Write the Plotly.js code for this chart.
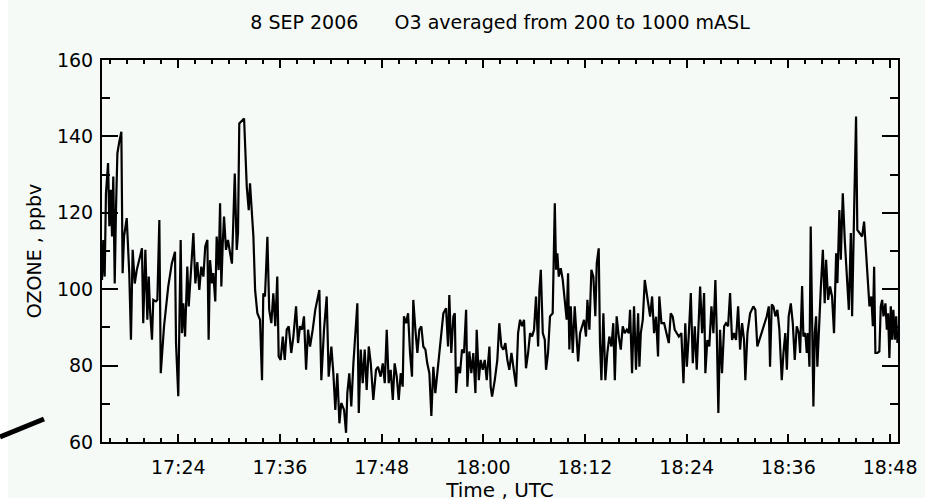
<!DOCTYPE html>
<html>
<head>
<meta charset="utf-8">
<script src="https://cdn.plot.ly/plotly-3.0.1.min.js"></script>
<style>
  html, body { margin: 0; padding: 0; background: #ffffff; }
  #chart { width: 928px; height: 503px; }
</style>
</head>
<body>
<div id="chart"></div>
<script>
// Time axis values: minutes after 17:00 UTC, 8 Sep 2006
const t1 = [15.00,15.15,15.32,15.47,15.71,15.86,16.03,16.18,16.33,16.50,16.65,16.81,17.04,17.28,17.44,17.60,17.92,18.22,18.42,18.62,18.86,19.10,19.48,19.72,19.87,20.11,20.35,20.51,20.66,20.90,21.05,21.37,21.53,21.76,21.93,22.32,22.82,23.23,23.62,23.73,24.00,24.29,24.44,24.60,24.80,25.07,25.23,25.47,25.78,26.01,26.25,26.48,26.72,26.96,27.19,27.43,27.59,27.75,27.98,28.14,28.37,28.54,28.77,28.93,29.08,29.25,29.40,29.63,29.87,30.11,30.34,30.50,30.66,30.90,31.05,31.20,31.76,32.08,32.31,32.47,32.70,32.86];
const o1 = [102.4,112.9,103.3,125.1,133,116.5,126,113.8,129.5,101.5,120.7,135.6,138.5,141.2,104.2,113.8,118.6,104.2,86.8,110.3,101.5,105,108.5,110.7,91.1,110.3,92,103.3,94.6,86.8,97.2,96.8,97.2,118.1,78,90.2,100.7,106.7,109.8,85.9,72,112.9,88.5,96.3,87.6,105.9,95.5,103.3,114.7,101.5,107.1,99.8,105.9,103.3,111.2,112.9,86.8,107.6,101.5,104.2,96.8,113.8,105,122.5,100.7,112.1,119,110.3,112.9,109.4,106.7,118.1,130.3,110.3,114.7,143.4,144.7,126.8,120.7,127.7,120.7,113.8];

const t2 = [33.06,33.33,33.65,33.88,34.04,34.24,34.51,34.74,34.98,35.22,35.45,35.69,35.85,36.09,36.33,36.56,36.80,37.03,37.34,37.58,37.90,38.13,38.37,38.60,38.84,39.08,39.31,39.55,39.87,40.17,40.65,40.88,41.20,41.52,41.75,42.06,42.30,42.53,42.77,43.01,43.24,43.56,43.80,43.95,44.19,44.42,44.66,44.89,45.13,45.30,45.53,45.77,46.00,46.24,46.48,46.71,47.02,47.34,47.57,47.89,48.13,48.36,48.60,48.84,49.07,49.31,49.54,49.78,50.02,50.25,50.49,50.64,50.88,51.11,51.35,51.59,51.74,51.98,52.21,52.45,52.68,52.92,53.16,53.39,53.63,53.86,54.10,54.34,54.57,54.81];
const o2 = [99.8,93.7,92,76.2,98.9,98.1,113.7,94.6,91.1,98.9,90.3,103.3,82.4,81.5,87.6,81.5,89.4,90.3,83.3,87.6,95.5,85.9,90.3,89.4,92.9,78.9,89.4,85,89.4,94.6,99.8,76.2,89.4,98.1,77.1,85,78,68.4,78,64.9,70.2,68.4,62.4,72.8,78,69.3,80.6,88.5,96.3,67.6,84.2,75.4,84.2,73.6,85,80.6,71,78.9,79.7,77.1,80.6,75.4,89.4,75.4,78.9,71,80.6,77.1,71,78,74.5,92.9,91.1,93.7,83.3,77.1,97.2,89.4,83.3,89.4,90.3,85,84.2,80.6,78,66.8,79.7,72.8,78,82.4];

const t3 = [55.28,55.60,55.84,55.99,56.22,56.46,56.63,56.78,57.02,57.25,57.49,57.72,57.96,58.11,58.35,58.58,58.82,59.06,59.22,59.46,59.69,59.93,60.17,60.40,60.71,60.87,61.03,61.35,61.65,61.89,62.13,62.36,62.60,62.83,63.07,63.31,63.54,63.86,64.10,64.33,64.57,64.80,65.04,65.28,65.51,65.75,65.98,66.22,66.46,66.61,66.78,67.01,67.25,67.40,67.64,67.87,68.19,68.43,68.58,68.74,68.90,69.14,69.37,69.61,69.84,70.00,70.15,70.32,70.55,70.79,71.02,71.18,71.41,71.65,71.89,72.12,72.28,72.51,72.75,72.98,73.22,73.38,73.62,73.77,73.93,74.16,74.40,74.64,74.87,75.11,75.34,75.51,75.74,75.98,76.22,76.45,76.69,76.93,77.16,77.31,77.55,77.79,78.02,78.26,78.41];
const o3 = [93.7,95,85,98.5,83.3,92.9,93.7,72.8,79.7,78,84.2,83.3,94.6,74.5,83.7,78,83.3,72.8,89.4,76.2,81.5,78.9,81.5,76.2,85,74.5,71.9,76.2,81.5,91.1,85,84.2,85.9,81.5,78.9,83.3,79.7,74.5,88.5,92,90.3,92,79.3,83.3,88.5,87.6,89.4,98.1,85,99.8,105.1,88.5,86.8,78.9,83.3,92.9,93.7,122.5,105.1,109.4,103.3,105.5,102.5,97.2,92,104.2,84.2,95.5,83.3,95.5,86.8,81.1,88.5,90.3,92,87.6,97.2,89.4,105.1,103.3,92.9,106.8,110.7,85.9,76.2,93.7,76.2,83.3,87.6,85,91.1,76.2,92.9,87.6,84.2,90.3,88.5,89.4,88.5,94.6,78,95.5,78.9,93.7,79.7];

const t4 = [78.58,78.81,79.05,79.29,79.52,79.68,79.91,80.15,80.38,80.62,80.77,81.01,81.33,81.65,81.88,82.12,82.35,82.59,82.83,83.06,83.37,83.61,83.84,84.01,84.24,84.48,84.71,84.95,85.19,85.42,85.58,85.81,86.05,86.20,86.44,86.67,86.91,87.15,87.38,87.55,87.74,87.94,88.17,88.41,88.64,88.88,89.12,89.35,89.59,89.82,90.06,90.30,90.53,90.77,90.92,91.16,91.48,91.87,92.10,92.34,92.58];
const o4 = [88.5,92,102.4,99,96.3,92.8,98.1,88.5,92.8,82.4,98.1,91.1,91.1,88.5,85.9,93.7,92.8,89.4,88.5,87.6,88.5,75.4,91.1,79.7,87.6,99,80.6,90.3,78.9,89.4,100.7,88.5,99,78,86.7,85,95.5,88.5,102.4,88.5,67.6,89.4,78,90.3,91.1,90.3,99,86.7,88.5,86.7,95.5,84.2,91.1,86.7,76.2,88.5,93.7,95.5,94.6,85,86.7];

const t5 = [93.05,93.45,93.68,93.84,94.04,94.23,94.46,94.70,94.94,95.22,95.41,95.64,95.81,96.04,96.28,96.52,96.75,96.99,97.23,97.38,97.61,97.77,98.00,98.17,98.32,98.48,98.64,98.79,98.95,99.11,99.27,99.42,99.66,99.82,100.06,100.29,100.45,100.68,100.92,101.15,101.39,101.63,101.78,102.02,102.18,102.42,102.65,102.89,103.13,103.36,103.52,103.75,103.99,104.14,104.38,104.70,104.93,105.17,105.40,105.56,105.79,105.96,106.11,106.27,106.50,106.74,106.90,107.06,107.21,107.45,107.61,107.77,107.92,108.08,108.24,108.39,108.56,108.71,108.86];
const o5 = [90.3,92.9,95.5,79.7,96,95.5,92.9,94.6,89.4,76.2,83.3,88.5,78.9,92.9,96.3,91.1,81.5,90.3,88.5,83.3,100.8,87.6,88.5,83.3,88.5,79.7,116.4,95.5,69.3,88.5,92.9,79.7,95.5,99.9,110.3,96.3,107.7,97.2,100.7,98.1,88.5,109.4,101.6,120.7,107.7,125.1,112.9,105.1,94.6,114.7,92.9,119.9,145.2,115.5,114.7,113.8,117.7,109.4,100.7,95.5,98.1,90.3,105.9,83.3,83.3,83.7,95.5,97.2,92.9,96.3,89.4,93.7,82,95.5,86.8,94.6,86.8,92.9,85.9];

const titleText = '8 SEP 2006' + '\u00a0'.repeat(6) + 'O3 averaged from 200 to 1000 mASL';
const xTitle = 'Time , UTC';
const yTitle = 'OZONE , ppbv';

const pad = n => String(n).padStart(2, '0');
function toDate(m) {
  const s = Math.round(m * 60);
  const hh = 17 + Math.floor(s / 3600);
  const mm = Math.floor((s % 3600) / 60);
  const ss = s % 60;
  return `2006-09-08 ${pad(hh)}:${pad(mm)}:${pad(ss)}`;
}

const minutes = [].concat(t1, t2, t3, t4, t5);
const ozone = [].concat(o1, o2, o3, o4, o5);
const times = minutes.map(toDate);

// plot area in pixels: left 102, right 898, top 60, bottom 442
const PL = 102, PR = 898, PT = 60, PB = 442;
const px = x => (x - PL) / (PR - PL);
const py = y => (PB - y) / (PB - PT);

const trace = {
  x: times,
  y: ozone,
  type: 'scatter',
  mode: 'lines',
  line: { color: '#000000', width: 2.2 },
  hoverinfo: 'none'
};

const tint = '#f5faf7';
const axisBase = {
  ticks: 'inside', tickwidth: 2, tickcolor: '#000000',
  showline: true, linewidth: 2, linecolor: '#000000', mirror: 'allticks',
  showgrid: false, zeroline: false
};

const layout = {
  width: 928,
  height: 503,
  margin: { l: PL, r: 928 - PR, t: PT, b: 503 - PB, pad: 0 },
  paper_bgcolor: tint,
  plot_bgcolor: tint,
  showlegend: false,
  font: { family: 'DejaVu Sans', color: '#000000', size: 18 },
  title: {
    text: titleText,
    font: { size: 19, color: '#000000' },
    xref: 'paper', x: 0.5, xanchor: 'center',
    yref: 'container', y: 1 - 22 / 503, yanchor: 'middle'
  },
  xaxis: Object.assign({}, axisBase, {
    type: 'date',
    range: [toDate(15), toDate(108.94)],
    tickformat: '%H:%M',
    tickmode: 'linear',
    tick0: toDate(24),
    dtick: 12 * 60 * 1000,
    ticklen: 8,
    minor: { ticks: 'inside', ticklen: 4, tickwidth: 2, tickcolor: '#000000', tick0: toDate(24), dtick: 2 * 60 * 1000, showgrid: false },
    tickfont: { size: 19 },
    ticklabelstandoff: 7,
    title: { text: xTitle, font: { size: 20 }, standoff: 6 }
  }),
  yaxis: Object.assign({}, axisBase, {
    range: [60, 160],
    tickmode: 'linear',
    tick0: 60,
    dtick: 20,
    ticklen: 16,
    minor: { ticks: 'inside', ticklen: 8, tickwidth: 2, tickcolor: '#000000', tick0: 60, dtick: 10, showgrid: false },
    tickfont: { size: 19 },
    ticklabelstandoff: 3,
    title: { text: yTitle, font: { size: 19 }, standoff: 10 }
  }),
  shapes: [
    { type: 'rect', xref: 'paper', yref: 'paper', x0: px(0), x1: px(8), y0: py(503), y1: py(0), fillcolor: '#ffffff', line: { width: 0 }, layer: 'above' },
    { type: 'rect', xref: 'paper', yref: 'paper', x0: px(925), x1: px(928), y0: py(503), y1: py(0), fillcolor: '#ffffff', line: { width: 0 }, layer: 'above' },
    { type: 'rect', xref: 'paper', yref: 'paper', x0: px(0), x1: px(928), y0: py(503), y1: py(498), fillcolor: '#ffffff', line: { width: 0 }, layer: 'above' },
    { type: 'line', xref: 'paper', yref: 'paper', x0: px(0), y0: py(437), x1: px(44), y1: py(419), line: { color: '#000000', width: 5 }, layer: 'above' }
  ]
};

Plotly.newPlot('chart', [trace], layout, { staticPlot: true, displayModeBar: false });
</script>
</body>
</html>
